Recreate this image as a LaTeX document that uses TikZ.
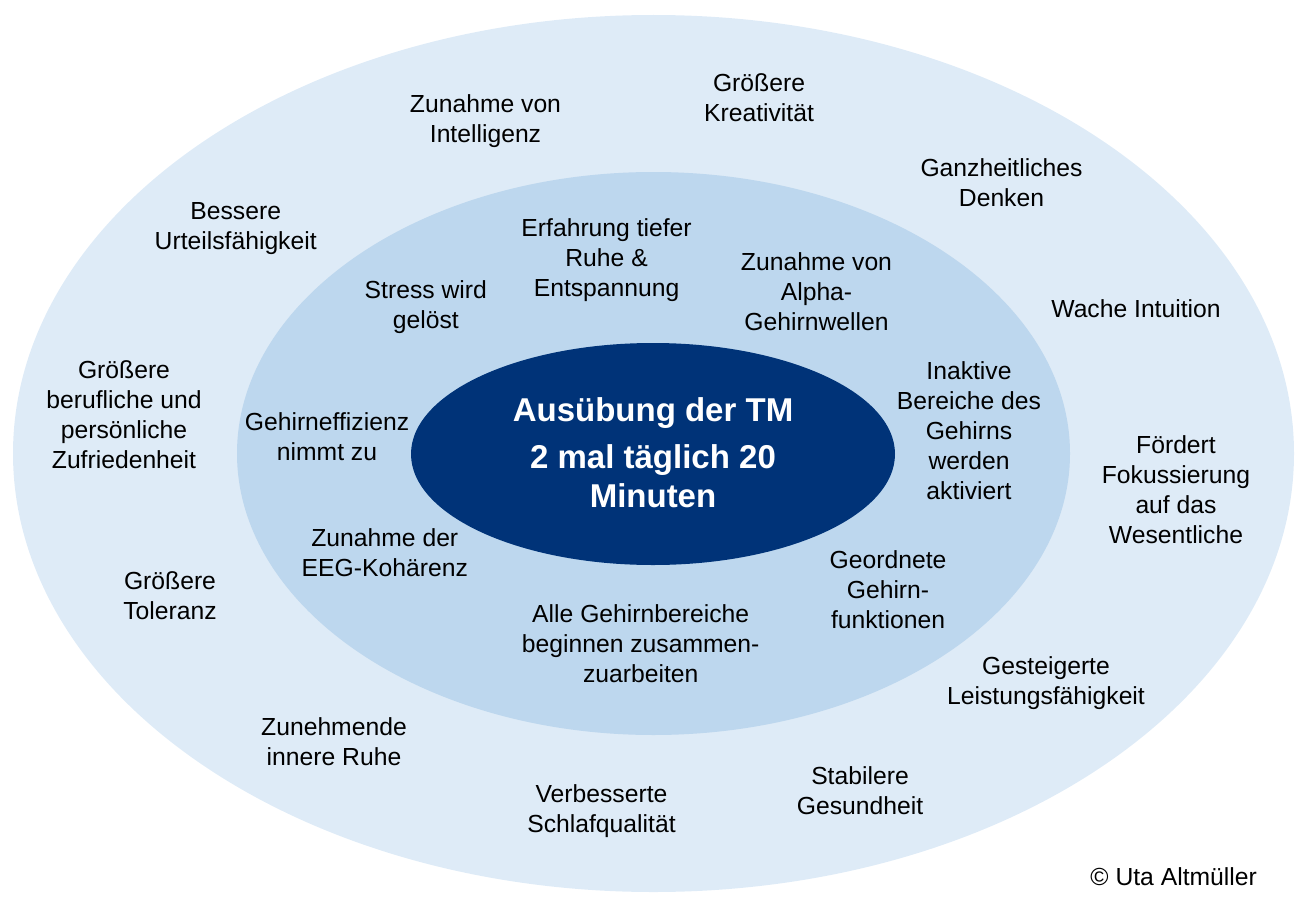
\documentclass[tikz,border=0pt]{standalone}
\usepackage{fontspec}
\setmainfont{Liberation Sans}
\usetikzlibrary{shapes.geometric}
\definecolor{ringout}{RGB}{222,235,247}
\definecolor{ringmid}{RGB}{189,215,238}
\definecolor{corecol}{RGB}{0,51,120}
\begin{document}
\begin{tikzpicture}[x=1pt,y=-1pt,
  ring/.style={ellipse, draw=none, inner sep=0pt, outer sep=0pt},
  lbl/.style={align=center, inner sep=0pt, text=black, font=\fontsize{24.7}{30}\selectfont},
  ttl/.style={align=center, inner sep=0pt, text=white, font=\fontsize{33}{39.4}\selectfont\bfseries}]
\useasboundingbox (0,0) rectangle (1301,899);
% rings
\node[ring, fill=ringout, minimum width=1281pt, minimum height=877pt] (outer) at (653.5,453.5) {};
\node[ring, fill=ringmid, minimum width=833pt, minimum height=563pt] (middle) at (653.5,453.5) {};
\node[ring, fill=corecol, minimum width=484pt, minimum height=222pt] (core) at (653,454) {};
\node[ttl] (coretext) at (653,456.5) {\strut Ausübung der TM\\[7.9pt]2 mal täglich 20\\Minuten\strut};
% outer ring labels
\node[lbl] (kreat) at (759,100.4) {\strut Größere\\Kreativität\strut};
\node[lbl] (intel) at (485.5,121) {\strut Zunahme von\\Intelligenz\strut};
\node[lbl] (ganz) at (1001.5,185.2) {\strut Ganzheitliches\\Denken\strut};
\node[lbl] (urteil) at (235.7,228.7) {\strut Bessere\\Urteilsfähigkeit\strut};
\node[lbl] (intu) at (1136,311) {\strut Wache Intuition\strut};
\node[lbl] (zufr) at (124,417) {\strut Größere\\berufliche und\\persönliche\\Zufriedenheit\strut};
\node[lbl] (fokus) at (1176,492) {\strut Fördert\\Fokussierung\\auf das\\Wesentliche\strut};
\node[lbl] (toler) at (170,598) {\strut Größere\\Toleranz\strut};
\node[lbl] (leist) at (1046,683) {\strut Gesteigerte\\Leistungsfähigkeit\strut};
\node[lbl] (ruhe) at (334,744.9) {\strut Zunehmende\\innere Ruhe\strut};
\node[lbl] (gesund) at (860,793.7) {\strut Stabilere\\Gesundheit\strut};
\node[lbl] (schlaf) at (601.5,811.5) {\strut Verbesserte\\Schlafqualität\strut};
\node[lbl] (copy) at (1173.7,879) {\strut © Uta Altmüller\strut};
% middle ring labels
\node[lbl] (erf) at (606.6,260.2) {\strut Erfahrung tiefer\\Ruhe \&\\Entspannung\strut};
\node[lbl] (alpha) at (816.5,294.5) {\strut Zunahme von\\Alpha-\\Gehirnwellen\strut};
\node[lbl] (stress) at (425.8,307.7) {\strut Stress wird\\gelöst\strut};
\node[lbl] (inakt) at (969,433) {\strut Inaktive\\Bereiche des\\Gehirns\\werden\\aktiviert\strut};
\node[lbl] (effiz) at (327,439) {\strut Gehirneffizienz\\nimmt zu\strut};
\node[lbl] (eeg) at (384.8,555.4) {\strut Zunahme der\\EEG-Kohärenz\strut};
\node[lbl] (geord) at (888,592.7) {\strut Geordnete\\Gehirn-\\funktionen\strut};
\node[lbl] (alle) at (640.7,646.3) {\strut Alle Gehirnbereiche\\beginnen zusammen-\\zuarbeiten\strut};
\end{tikzpicture}
\end{document}
